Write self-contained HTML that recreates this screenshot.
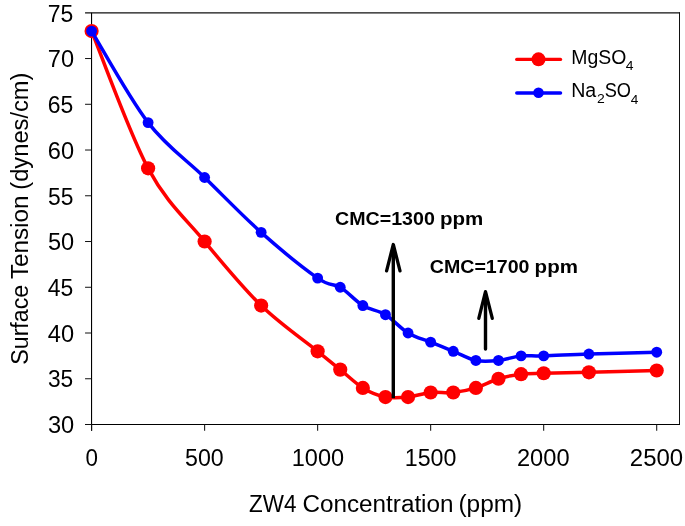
<!DOCTYPE html>
<html><head><meta charset="utf-8"><style>
html,body{margin:0;padding:0;background:#fff;}
body{width:685px;height:526px;overflow:hidden;}
svg{display:block;will-change:transform;font-family:"Liberation Sans", sans-serif;}
text{fill:#000;}
</style></head><body>
<svg width="685" height="526" viewBox="0 0 685 526">
<rect width="685" height="526" fill="#fff"/>
<line x1="85.05" y1="12.85" x2="680.0" y2="12.85" stroke="#111" stroke-width="1.1"/>
<line x1="679.5" y1="12.35" x2="679.5" y2="425.0" stroke="#111" stroke-width="1.0"/>
<line x1="91.55" y1="12.85" x2="91.55" y2="430.8" stroke="#000" stroke-width="1.1"/>
<line x1="85.05" y1="424.5" x2="680.0" y2="424.5" stroke="#000" stroke-width="1.15"/>
<line x1="85.05" y1="424.50" x2="91.55" y2="424.50" stroke="#111" stroke-width="1.0"/>
<line x1="85.05" y1="378.76" x2="91.55" y2="378.76" stroke="#111" stroke-width="1.0"/>
<line x1="85.05" y1="333.01" x2="91.55" y2="333.01" stroke="#111" stroke-width="1.0"/>
<line x1="85.05" y1="287.27" x2="91.55" y2="287.27" stroke="#111" stroke-width="1.0"/>
<line x1="85.05" y1="241.52" x2="91.55" y2="241.52" stroke="#111" stroke-width="1.0"/>
<line x1="85.05" y1="195.78" x2="91.55" y2="195.78" stroke="#111" stroke-width="1.0"/>
<line x1="85.05" y1="150.03" x2="91.55" y2="150.03" stroke="#111" stroke-width="1.0"/>
<line x1="85.05" y1="104.29" x2="91.55" y2="104.29" stroke="#111" stroke-width="1.0"/>
<line x1="85.05" y1="58.54" x2="91.55" y2="58.54" stroke="#111" stroke-width="1.0"/>
<line x1="91.60" y1="424.5" x2="91.60" y2="430.8" stroke="#111" stroke-width="1.05"/>
<line x1="204.62" y1="424.5" x2="204.62" y2="430.8" stroke="#111" stroke-width="1.05"/>
<line x1="317.64" y1="424.5" x2="317.64" y2="430.8" stroke="#111" stroke-width="1.05"/>
<line x1="430.66" y1="424.5" x2="430.66" y2="430.8" stroke="#111" stroke-width="1.05"/>
<line x1="543.68" y1="424.5" x2="543.68" y2="430.8" stroke="#111" stroke-width="1.05"/>
<line x1="656.70" y1="424.5" x2="656.70" y2="430.8" stroke="#111" stroke-width="1.05"/>
<path d="M91.60,31.10 C101.02,53.97 129.27,133.26 148.11,168.33 C166.95,203.40 185.78,218.65 204.62,241.52 C223.46,264.39 242.29,287.27 261.13,305.56 C279.97,323.86 304.45,340.64 317.64,351.31 C330.83,361.98 332.71,363.51 340.24,369.61 C347.78,375.71 355.31,383.33 362.85,387.90 C370.38,392.48 377.92,395.53 385.45,397.05 C392.99,398.58 400.52,397.82 408.06,397.05 C415.59,396.29 423.13,393.24 430.66,392.48 C438.19,391.72 445.73,393.24 453.26,392.48 C460.80,391.72 468.33,390.19 475.87,387.90 C483.40,385.62 490.94,381.04 498.47,378.76 C506.01,376.47 513.54,375.10 521.08,374.18 C528.61,373.27 532.38,373.57 543.68,373.27 C554.98,372.96 570.05,372.81 588.89,372.35 C607.72,371.89 645.40,370.83 656.70,370.52" fill="none" stroke="#ff0000" stroke-width="3.5" stroke-linejoin="round" stroke-linecap="round"/>
<circle cx="91.60" cy="31.10" r="7.1" fill="#ff0000"/>
<circle cx="148.11" cy="168.33" r="7.1" fill="#ff0000"/>
<circle cx="204.62" cy="241.52" r="7.1" fill="#ff0000"/>
<circle cx="261.13" cy="305.56" r="7.1" fill="#ff0000"/>
<circle cx="317.64" cy="351.31" r="7.1" fill="#ff0000"/>
<circle cx="340.24" cy="369.61" r="7.1" fill="#ff0000"/>
<circle cx="362.85" cy="387.90" r="7.1" fill="#ff0000"/>
<circle cx="385.45" cy="397.05" r="7.1" fill="#ff0000"/>
<circle cx="408.06" cy="397.05" r="7.1" fill="#ff0000"/>
<circle cx="430.66" cy="392.48" r="7.1" fill="#ff0000"/>
<circle cx="453.26" cy="392.48" r="7.1" fill="#ff0000"/>
<circle cx="475.87" cy="387.90" r="7.1" fill="#ff0000"/>
<circle cx="498.47" cy="378.76" r="7.1" fill="#ff0000"/>
<circle cx="521.08" cy="374.18" r="7.1" fill="#ff0000"/>
<circle cx="543.68" cy="373.27" r="7.1" fill="#ff0000"/>
<circle cx="588.89" cy="372.35" r="7.1" fill="#ff0000"/>
<circle cx="656.70" cy="370.52" r="7.1" fill="#ff0000"/>
<path d="M91.60,31.10 C101.02,46.35 129.27,98.19 148.11,122.59 C166.95,146.98 185.78,159.18 204.62,177.48 C223.46,195.78 242.29,215.60 261.13,232.37 C279.97,249.15 304.45,268.97 317.64,278.12 C330.83,287.27 332.71,282.69 340.24,287.27 C347.78,291.84 355.31,300.99 362.85,305.56 C370.38,310.14 377.92,310.14 385.45,314.71 C392.99,319.29 400.52,328.44 408.06,333.01 C415.59,337.59 423.13,339.11 430.66,342.16 C438.19,345.21 445.73,348.26 453.26,351.31 C460.80,354.36 468.33,358.93 475.87,360.46 C483.40,361.98 490.94,361.22 498.47,360.46 C506.01,359.70 513.54,356.65 521.08,355.88 C528.61,355.12 532.38,356.19 543.68,355.88 C554.98,355.58 570.05,354.66 588.89,354.05 C607.72,353.44 645.40,352.53 656.70,352.22" fill="none" stroke="#0000ff" stroke-width="3.5" stroke-linejoin="round" stroke-linecap="round"/>
<circle cx="91.60" cy="31.10" r="5.45" fill="#0000ff"/>
<circle cx="148.11" cy="122.59" r="5.45" fill="#0000ff"/>
<circle cx="204.62" cy="177.48" r="5.45" fill="#0000ff"/>
<circle cx="261.13" cy="232.37" r="5.45" fill="#0000ff"/>
<circle cx="317.64" cy="278.12" r="5.45" fill="#0000ff"/>
<circle cx="340.24" cy="287.27" r="5.45" fill="#0000ff"/>
<circle cx="362.85" cy="305.56" r="5.45" fill="#0000ff"/>
<circle cx="385.45" cy="314.71" r="5.45" fill="#0000ff"/>
<circle cx="408.06" cy="333.01" r="5.45" fill="#0000ff"/>
<circle cx="430.66" cy="342.16" r="5.45" fill="#0000ff"/>
<circle cx="453.26" cy="351.31" r="5.45" fill="#0000ff"/>
<circle cx="475.87" cy="360.46" r="5.45" fill="#0000ff"/>
<circle cx="498.47" cy="360.46" r="5.45" fill="#0000ff"/>
<circle cx="521.08" cy="355.88" r="5.45" fill="#0000ff"/>
<circle cx="543.68" cy="355.88" r="5.45" fill="#0000ff"/>
<circle cx="588.89" cy="354.05" r="5.45" fill="#0000ff"/>
<circle cx="656.70" cy="352.22" r="5.45" fill="#0000ff"/>
<line x1="516.8" y1="59.4" x2="560.5" y2="59.4" stroke="#ff0000" stroke-width="3.4" stroke-linecap="round"/>
<circle cx="538.5" cy="59.35" r="7.0" fill="#ff0000"/>
<line x1="516.8" y1="92.9" x2="560.5" y2="92.9" stroke="#0000ff" stroke-width="3.5" stroke-linecap="round"/>
<circle cx="538.5" cy="92.8" r="5.3" fill="#0000ff"/>
<line x1="393.3" y1="398.2" x2="393.3" y2="247" stroke="#000" stroke-width="3.4"/>
<polyline points="386.6,270.8 393.3,244.5 400.0,270.8" fill="none" stroke="#000" stroke-width="3.3" stroke-linecap="round" stroke-linejoin="round"/>
<line x1="485.5" y1="349" x2="485.5" y2="294" stroke="#000" stroke-width="3.4" stroke-linecap="round"/>
<polyline points="478.8,318.3 485.5,291.6 492.3,318.3" fill="none" stroke="#000" stroke-width="3.3" stroke-linecap="round" stroke-linejoin="round"/>
<text x="47.93" y="432.60" font-size="23.5" textLength="26.33" lengthAdjust="spacingAndGlyphs">30</text>
<text x="47.89" y="386.97" font-size="23.5" textLength="25.27" lengthAdjust="spacingAndGlyphs">35</text>
<text x="47.75" y="341.83" font-size="23.5" textLength="26.26" lengthAdjust="spacingAndGlyphs">40</text>
<text x="47.84" y="295.70" font-size="23.5" textLength="25.51" lengthAdjust="spacingAndGlyphs">45</text>
<text x="47.93" y="249.57" font-size="23.5" textLength="26.24" lengthAdjust="spacingAndGlyphs">50</text>
<text x="47.98" y="204.93" font-size="23.5" textLength="25.39" lengthAdjust="spacingAndGlyphs">55</text>
<text x="47.79" y="158.80" font-size="23.5" textLength="26.24" lengthAdjust="spacingAndGlyphs">60</text>
<text x="47.84" y="112.67" font-size="23.5" textLength="25.53" lengthAdjust="spacingAndGlyphs">65</text>
<text x="47.83" y="66.53" font-size="23.5" textLength="26.24" lengthAdjust="spacingAndGlyphs">70</text>
<text x="47.85" y="21.90" font-size="23.5" textLength="25.54" lengthAdjust="spacingAndGlyphs">75</text>
<text x="85.43" y="465.90" font-size="23.5" textLength="12.46" lengthAdjust="spacingAndGlyphs">0</text>
<text x="185.04" y="465.90" font-size="23.5" textLength="38.68" lengthAdjust="spacingAndGlyphs">500</text>
<text x="291.79" y="465.90" font-size="23.5" textLength="52.32" lengthAdjust="spacingAndGlyphs">1000</text>
<text x="404.81" y="465.90" font-size="23.5" textLength="51.62" lengthAdjust="spacingAndGlyphs">1500</text>
<text x="516.98" y="465.90" font-size="23.5" textLength="52.57" lengthAdjust="spacingAndGlyphs">2000</text>
<text x="629.82" y="465.90" font-size="23.5" textLength="53.29" lengthAdjust="spacingAndGlyphs">2500</text>
<text x="571.33" y="63.85" font-size="20.0" textLength="55.02" lengthAdjust="spacingAndGlyphs">MgSO</text>
<text x="625.81" y="69.75" font-size="13.6" textLength="7.75" lengthAdjust="spacingAndGlyphs">4</text>
<text x="571.13" y="96.60" font-size="20.0" textLength="25.06" lengthAdjust="spacingAndGlyphs">Na</text>
<text x="597.13" y="102.60" font-size="13.6" textLength="7.78" lengthAdjust="spacingAndGlyphs">2</text>
<text x="604.64" y="96.80" font-size="20.0" textLength="26.30" lengthAdjust="spacingAndGlyphs">SO</text>
<text x="630.78" y="103.82" font-size="13.6" textLength="7.58" lengthAdjust="spacingAndGlyphs">4</text>
<text x="249.09" y="511.90" font-size="23.3" textLength="47.37" lengthAdjust="spacingAndGlyphs">ZW4</text>
<text x="302.41" y="511.90" font-size="23.3" textLength="151.12" lengthAdjust="spacingAndGlyphs">Concentration</text>
<text x="458.41" y="511.90" font-size="23.3" textLength="63.81" lengthAdjust="spacingAndGlyphs">(ppm)</text>
<text transform="translate(27.90,364.76) rotate(-90)" font-size="23.5" textLength="79.99" lengthAdjust="spacingAndGlyphs">Surface</text>
<text transform="translate(27.90,279.07) rotate(-90)" font-size="23.5" textLength="83.53" lengthAdjust="spacingAndGlyphs">Tension</text>
<text transform="translate(27.90,189.71) rotate(-90)" font-size="23.5" textLength="117.18" lengthAdjust="spacingAndGlyphs">(dynes/cm)</text>
<text x="335.01" y="224.80" font-size="19.0" font-weight="bold" textLength="99.80" lengthAdjust="spacingAndGlyphs">CMC=1300</text>
<text x="439.97" y="224.80" font-size="19.0" font-weight="bold" textLength="43.30" lengthAdjust="spacingAndGlyphs">ppm</text>
<text x="429.81" y="272.50" font-size="19.0" font-weight="bold" textLength="99.67" lengthAdjust="spacingAndGlyphs">CMC=1700</text>
<text x="534.62" y="272.50" font-size="19.0" font-weight="bold" textLength="43.27" lengthAdjust="spacingAndGlyphs">ppm</text>
</svg>
</body></html>
